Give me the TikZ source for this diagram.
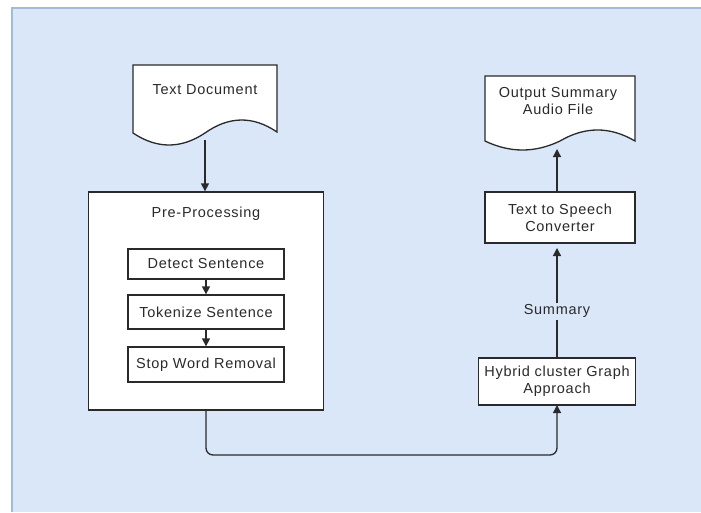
\documentclass[tikz,border=0pt]{standalone}
\usepackage{fontspec}
\setmainfont{Liberation Sans}[LetterSpace=5]
\usetikzlibrary{arrows.meta}
\definecolor{bgblue}{HTML}{DAE7F9}
\definecolor{bgedge}{HTML}{A3BADB}
\definecolor{ink}{HTML}{2A2A2A}
\tikzset{
  box/.style={draw=ink, line width=1.3pt, fill=white},
  lbl/.style={font=\fontsize{14.5}{17}\selectfont, text=ink, align=center, inner sep=0pt},
  conn/.style={draw=ink, line width=1.3pt, -{Triangle[length=8pt,width=8pt]}},
}
\begin{document}
\begin{tikzpicture}[x=1pt,y=-1pt]
\useasboundingbox (0,0) rectangle (701,512);
\fill[bgblue] (12,8) rectangle (701,512);
\draw[bgedge, line width=1.2pt] (12,512) -- (12,8) -- (701,8);

% Text Document (document shape)
\draw[box] (133,65) -- (277,65) -- (277,132)
  .. controls (253,115.7) and (229,116) .. (205,133)
  .. controls (181,149) and (157,149) .. (133,133) -- cycle;
\node[lbl] (doc) at (205,90) {Text Document};
\coordinate (docb) at (205,140);

% Output document
\draw[box] (485,76) -- (635,76) -- (635,141)
  .. controls (610,126.3) and (585,126.3) .. (560,141)
  .. controls (535,153) and (510,153) .. (485,141) -- cycle;
\node[lbl] (out) at (558,101) {Output Summary\\Audio File};
\coordinate (outb) at (557,149);

% Pre-processing container
\node[box, minimum width=235pt, minimum height=218pt, inner sep=0pt] (pre) at (206,301) {};
\node[lbl] (pretitle) at (206,214) {Pre-Processing};
\node[box, minimum width=156pt, minimum height=30pt, inner sep=0pt] (det) at (206,264) {};
\node[lbl] at (det) {Detect Sentence};
\node[box, minimum width=156pt, minimum height=34pt, inner sep=0pt] (tok) at (206,312) {};
\node[lbl] at (tok) {Tokenize Sentence};
\node[box, minimum width=156pt, minimum height=35pt, inner sep=0pt] (stop) at (206,364.5) {};
\node[lbl] at (stop) {Stop Word Removal};

% Right boxes
\node[box, minimum width=150pt, minimum height=51pt, inner sep=0pt] (tts) at (560,217.5) {};
\node[lbl] at (tts) {Text to Speech\\Converter};
\node[box, minimum width=157pt, minimum height=47pt, inner sep=0pt] (hyb) at (557,381.5) {};
\node[lbl] at (hyb) {Hybrid cluster Graph\\Approach};

% connectors
\draw[conn] (docb) -- (pre.north -| docb);
\draw[conn] (det.south) -- (tok.north);
\draw[conn] (tok.south) -- (stop.north);
\coordinate (hybb) at (557,405);
\draw[conn, rounded corners=7pt] (pre.south) -- (206,455) -- (557,455) -- (hybb);
\coordinate (ttsb) at (557,248);
\draw[conn] (hyb.north -| ttsb) -- (ttsb)
  node[pos=0.42, lbl, fill=bgblue, inner sep=2pt] (sum) {Summary};
\draw[conn] (tts.north -| outb) -- (outb);
\end{tikzpicture}
\end{document}
